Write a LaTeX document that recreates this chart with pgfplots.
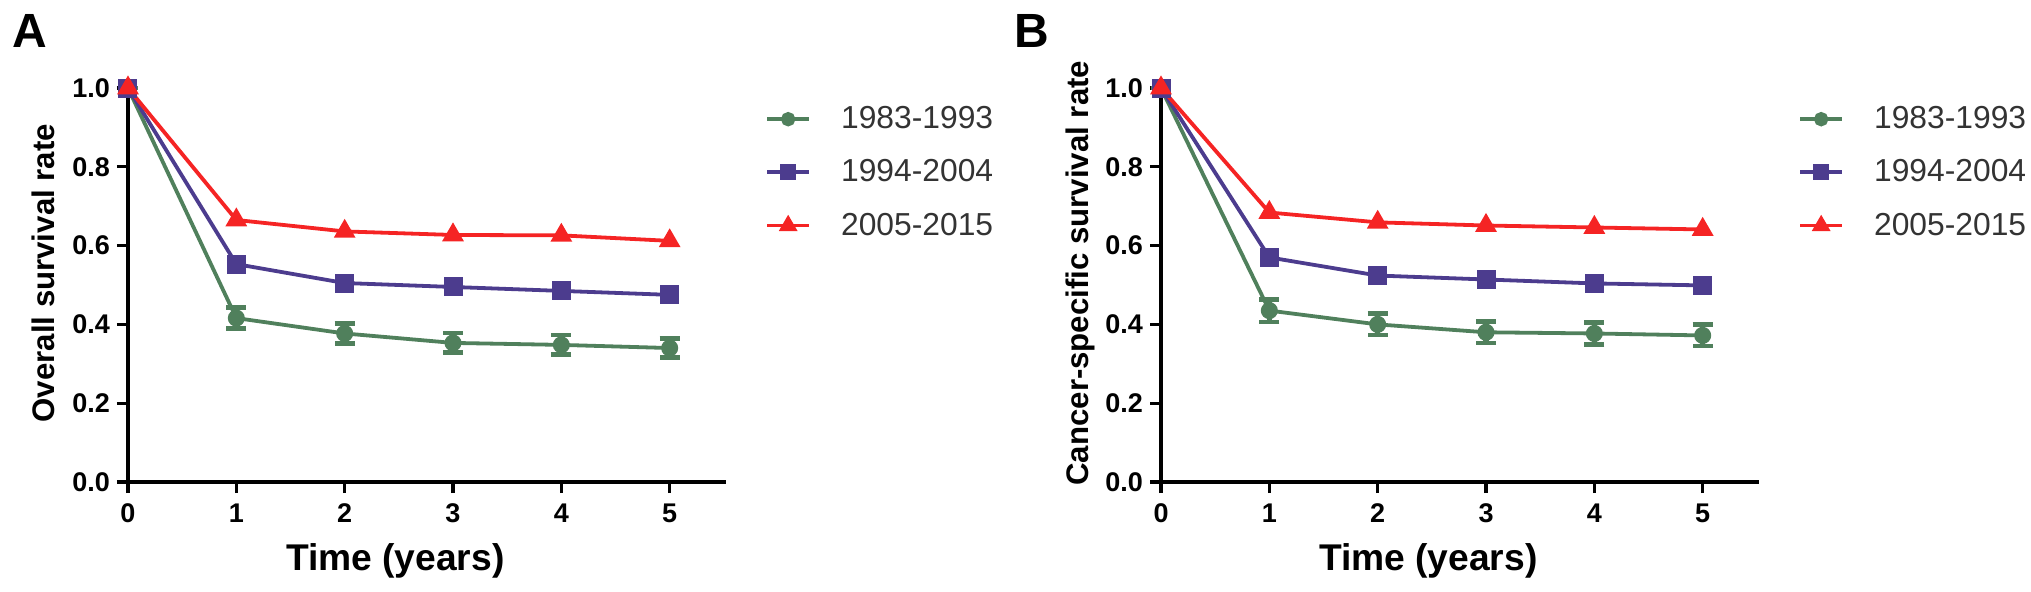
\documentclass[border=0pt]{standalone}
\usepackage{pgfplots}
\pgfplotsset{compat=1.18}
\usepackage{pgfplotstable}
\usepackage{fontspec}
\setmainfont{Liberation Sans}

\definecolor{cgreen}{RGB}{80,128,92}
\definecolor{cpurple}{RGB}{76,60,142}
\definecolor{cred}{RGB}{245,36,36}

% overall survival (panel A)
\pgfplotstableread{
x y err
0 1.000 0
1 0.416 0.027
2 0.377 0.025
3 0.353 0.025
4 0.348 0.025
5 0.340 0.025
}\osGreen
\pgfplotstableread{
x y
0 1.000
1 0.553
2 0.505
3 0.495
4 0.485
5 0.475
}\osPurple
\pgfplotstableread{
x y
0 1.000
1 0.665
2 0.636
3 0.627
4 0.626
5 0.612
}\osRed

% cancer-specific survival (panel B)
\pgfplotstableread{
x y err
0 1.000 0
1 0.435 0.029
2 0.400 0.027
3 0.380 0.027
4 0.377 0.027
5 0.372 0.027
}\csGreen
\pgfplotstableread{
x y
0 1.000
1 0.570
2 0.524
3 0.514
4 0.504
5 0.499
}\csPurple
\pgfplotstableread{
x y
0 1.000
1 0.684
2 0.659
3 0.651
4 0.646
5 0.641
}\csRed

\pgfplotsset{
  survstyle/.style={
    scale only axis,
    width=299pt, height=197pt,
    anchor=south west,
    xmin=0, xmax=5.52,
    ymin=0, ymax=1.0,
    clip=false,
    axis x line=bottom,
    axis y line=left,
    axis line style={-, line width=2pt, black},
    xtick={0,1,2,3,4,5},
    ytick={0,0.2,0.4,0.6,0.8,1.0},
    tick align=outside,
    major tick length=5.5pt,
    tick style={line width=1.6pt, black},
    /pgf/number format/assume math mode=true,
    tick label style={font=\fontsize{13.5}{16}\selectfont\bfseries},
    yticklabel style={/pgf/number format/.cd, fixed, fixed zerofill, precision=1},
    xticklabel style={yshift=-2pt, /pgf/number format/.cd, fixed, precision=0},
    xlabel={Time (years)},
    xlabel style={font=\fontsize{18.6}{22}\selectfont\bfseries,
      at={(rel axis cs:0.447,0)}, anchor=base, yshift=-44pt},
    ylabel style={font=\fontsize{15.6}{18}\selectfont\bfseries,
      at={(rel axis cs:0,0.53)}, anchor=base, yshift=36.5pt},
    legend image code/.code={
      \draw[mark repeat=2, mark phase=2, mark options={scale=0.8}]
        plot coordinates {(0pt,0pt) (10.5pt,0pt) (21pt,0pt)};
    },
    legend style={draw=none, fill=none, inner sep=0pt, at={(1.065,0.964)}, anchor=north west,
      font=\fontsize{15.9}{18}\selectfont, text=black!80, cells={anchor=west},
      row sep=10pt, column sep=13pt},
    greenline/.style={cgreen, line width=1.9pt, mark=*, mark size=3.3pt,
      mark options={fill=cgreen, draw=cgreen},
      error bars/.cd, y dir=both, y explicit,
      error bar style={line width=2.6pt, cgreen},
      error mark options={rotate=90, mark size=5pt, line width=2.4pt, cgreen}},
    purpleline/.style={cpurple, line width=1.9pt, mark=square*, mark size=3.8pt,
      mark options={fill=cpurple, draw=cpurple}},
    redline/.style={cred, line width=1.9pt, mark=triangle*, mark size=4.4pt,
      mark options={fill=cred, draw=cred}},
  }
}

\begin{document}
\begin{tikzpicture}
\useasboundingbox (0,0) rectangle (1015.5pt,295.5pt);

\begin{axis}[survstyle, at={(64pt,54.5pt)}, ylabel={Overall survival rate}]
  \addplot[greenline] table[x=x, y=y, y error=err] {\osGreen};
  \addplot[purpleline] table[x=x, y=y] {\osPurple};
  \addplot[redline] table[x=x, y=y] {\osRed};
  \legend{1983-1993, 1994-2004, 2005-2015}
\end{axis}

\begin{axis}[survstyle, at={(580.5pt,54.5pt)}, ylabel={Cancer-specific survival rate}]
  \addplot[greenline] table[x=x, y=y, y error=err] {\csGreen};
  \addplot[purpleline] table[x=x, y=y] {\csPurple};
  \addplot[redline] table[x=x, y=y] {\csRed};
  \legend{1983-1993, 1994-2004, 2005-2015}
\end{axis}

\node[anchor=base west, inner sep=0pt, font=\fontsize{24}{28}\selectfont\bfseries] at (6pt,272pt) {A};
\node[anchor=base west, inner sep=0pt, font=\fontsize{24}{28}\selectfont\bfseries] at (507pt,272pt) {B};
\end{tikzpicture}
\end{document}
